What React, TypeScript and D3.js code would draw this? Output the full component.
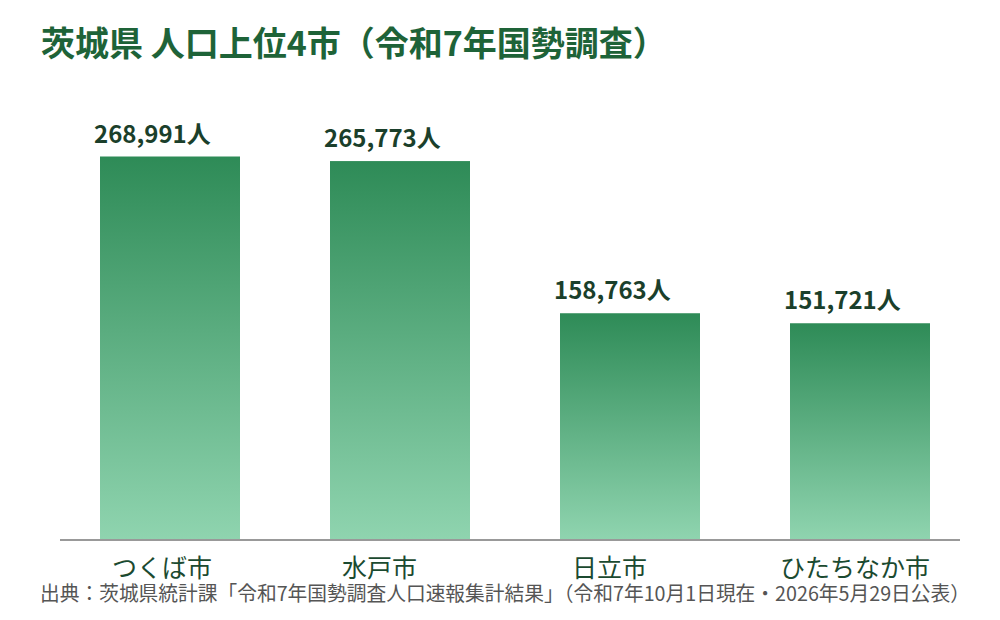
import React, { useEffect, useRef } from "react";
import * as d3 from "d3";

const cities: string[] = ["つくば市", "水戸市", "日立市", "ひたちなか市"];
const population: number[] = [268991, 265773, 158763, 151721];
const unitSuffix = "人";
const titleText = "茨城県 人口上位4市（令和7年国勢調査）";
const sourceText =
  "出典：茨城県統計課「令和7年国勢調査人口速報集計結果」（令和7年10月1日現在・2026年5月29日公表）";

const W = 1000;
const H = 620;
const FONT = "'Noto Sans CJK JP', 'Noto Sans', sans-serif";

export default function App() {
  const ref = useRef<SVGSVGElement | null>(null);

  useEffect(() => {
    document.body.style.margin = "0";
    document.body.style.overflow = "hidden";
    const svg = d3.select(ref.current);
    svg.selectAll("*").remove();

    const data = cities.map((c, i) => ({ city: c, value: population[i] }));

    const x = d3
      .scaleBand<string>()
      .domain(cities)
      .range([60, 970])
      .paddingInner(90 / 230)
      .paddingOuter(40 / 230);

    const y = d3
      .scaleLinear()
      .domain([0, (d3.max(population) as number) * 1.2])
      .range([539, 80]);

    const defs = svg.append("defs");
    const grad = defs
      .append("linearGradient")
      .attr("id", "barGrad")
      .attr("x1", 0)
      .attr("y1", 0)
      .attr("x2", 0)
      .attr("y2", 1);
    grad.append("stop").attr("offset", "0%").attr("stop-color", "#2e8b57");
    grad.append("stop").attr("offset", "100%").attr("stop-color", "#8fd4af");

    // title
    svg
      .append("text")
      .attr("x", 41)
      .attr("y", 56)
      .attr("font-family", FONT)
      .attr("font-size", 34)
      .attr("font-weight", 700)
      .attr("fill", "#1e6338")
      .text(titleText);

    // bars
    svg
      .append("g")
      .selectAll("rect")
      .data(data)
      .join("rect")
      .attr("x", (d) => x(d.city) as number)
      .attr("y", (d) => y(d.value))
      .attr("width", x.bandwidth())
      .attr("height", (d) => y(0) - y(d.value))
      .attr("fill", "url(#barGrad)");

    // baseline
    svg
      .append("line")
      .attr("x1", 60)
      .attr("x2", 960)
      .attr("y1", 540)
      .attr("y2", 540)
      .attr("stroke", "#999999")
      .attr("stroke-width", 2);

    // value labels
    svg
      .append("g")
      .selectAll("text")
      .data(data)
      .join("text")
      .attr("x", (d) => (x(d.city) as number) - 6)
      .attr("y", (d) => y(d.value) - 14)
      .attr("font-family", FONT)
      .attr("font-size", 24)
      .attr("font-weight", 700)
      .attr("fill", "#1b3f2b")
      .text((d) => d3.format(",")(d.value) + unitSuffix);

    // category labels
    const cats = svg
      .append("g")
      .selectAll("text")
      .data(data)
      .join("text")
      .attr("y", 577)
      .attr("font-family", FONT)
      .attr("font-size", 25)
      .attr("fill", "#1b4a30")
      .text((d) => d.city);
    cats.each(function (d) {
      const el = this as SVGTextElement;
      const w = el.getComputedTextLength();
      const bx = x(d.city) as number;
      el.setAttribute("x", String(Math.min(bx + 12, bx + x.bandwidth() - w)));
    });

    // source
    svg
      .append("text")
      .attr("x", 40)
      .attr("y", 601)
      .attr("font-family", FONT)
      .attr("font-size", 20)
      .attr("textLength", 930)
      .attr("lengthAdjust", "spacingAndGlyphs")
      .attr("fill", "#555555")
      .text(sourceText);
  }, []);

  return (
    <svg
      ref={ref}
      width={W}
      height={H}
      viewBox={`0 0 ${W} ${H}`}
      style={{ display: "block", background: "#ffffff" }}
    />
  );
}
